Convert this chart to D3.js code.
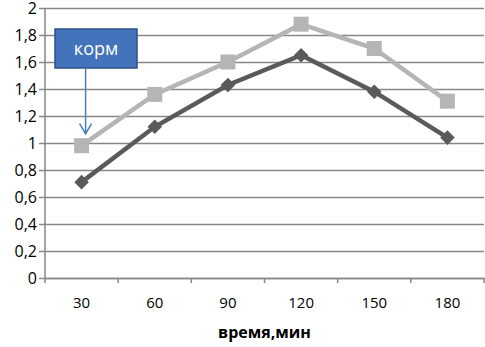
<!DOCTYPE html>
<html>
<head>
<meta charset="utf-8">
<script src="https://cdn.jsdelivr.net/npm/d3@7"></script>
<style>
  body { margin: 0; background: #fff; }
  text { font-family: "Open Sans", sans-serif; }
</style>
</head>
<body>
<div id="wrapper"></div>
<script>
const categories = ["30", "60", "90", "120", "150", "180"]
const seriesLight = [0.98, 1.36, 1.60, 1.88, 1.70, 1.31]
const seriesDark = [0.71, 1.12, 1.43, 1.65, 1.38, 1.04]
const yTicks = [0, 0.2, 0.4, 0.6, 0.8, 1, 1.2, 1.4, 1.6, 1.8, 2]
const axisTitle = "время,мин"
const calloutText = "корм"

function drawChart() {
    let dimensions = {
        width: 485,
        height: 347,
        margin: { top: 8, right: 1, bottom: 69, left: 45 },
    }
    dimensions.boundedWidth = dimensions.width - dimensions.margin.left - dimensions.margin.right
    dimensions.boundedHeight = dimensions.height - dimensions.margin.top - dimensions.margin.bottom

    const wrapper = d3.select("#wrapper")
        .append("svg")
        .attr("width", dimensions.width)
        .attr("height", dimensions.height)

    const bounds = wrapper.append("g")
        .attr("transform", `translate(${dimensions.margin.left}, ${dimensions.margin.top})`)

    const xScale = d3.scaleBand()
        .domain(categories)
        .range([0, dimensions.boundedWidth])

    const yScale = d3.scaleLinear()
        .domain([0, 2])
        .range([dimensions.boundedHeight, 0])

    // gridlines + y axis
    const yAxis = d3.axisLeft(yScale)
        .tickValues(yTicks)
        .tickSize(-dimensions.boundedWidth)
        .tickFormat(d => String(d).replace(".", ","))
    const yAxisG = bounds.append("g").call(yAxis)
    yAxisG.select(".domain").remove()
    yAxisG.selectAll(".tick line")
        .attr("x1", -6)
        .attr("stroke", "#878787")
        .attr("stroke-width", 1.5)
    yAxisG.selectAll(".tick text")
        .attr("x", -8)
        .attr("dy", "0.36em")
        .attr("font-size", 16)
        .attr("fill", "#000")

    // vertical axis line
    bounds.append("line")
        .attr("x1", 0).attr("x2", 0)
        .attr("y1", 0).attr("y2", dimensions.boundedHeight + 5)
        .attr("stroke", "#878787")
        .attr("stroke-width", 1.5)

    // x axis
    const xAxisG = bounds.append("g")
        .attr("transform", `translate(0, ${dimensions.boundedHeight})`)
        .call(d3.axisBottom(xScale).tickSize(0).tickPadding(19))
    xAxisG.select(".domain").attr("stroke", "#878787").attr("stroke-width", 1.5)
    xAxisG.selectAll(".tick text").attr("font-size", 15).attr("fill", "#000")

    // category boundary ticks
    bounds.append("g")
        .selectAll("line")
        .data(categories)
        .enter().append("line")
        .attr("x1", d => xScale(d) + xScale.bandwidth())
        .attr("x2", d => xScale(d) + xScale.bandwidth())
        .attr("y1", dimensions.boundedHeight)
        .attr("y2", dimensions.boundedHeight + 5)
        .attr("stroke", "#878787")
        .attr("stroke-width", 1.5)

    bounds.append("text")
        .attr("x", dimensions.boundedWidth / 2)
        .attr("y", dimensions.boundedHeight + 60)
        .attr("text-anchor", "middle")
        .attr("font-size", 16)
        .attr("font-weight", "bold")
        .text(axisTitle)

    const cx = d => xScale(d) + xScale.bandwidth() / 2
    const line = d3.line()
        .x((d, i) => cx(categories[i]))
        .y(d => yScale(d))

    // light series
    bounds.append("path")
        .datum(seriesLight)
        .attr("d", line)
        .attr("fill", "none")
        .attr("stroke", "#b5b5b5")
        .attr("stroke-width", 4.5)
    bounds.append("g")
        .selectAll("rect")
        .data(seriesLight)
        .enter().append("rect")
        .attr("x", (d, i) => cx(categories[i]) - 7.5)
        .attr("y", d => yScale(d) - 7.5)
        .attr("width", 15)
        .attr("height", 15)
        .attr("fill", "#b5b5b5")

    // dark series
    bounds.append("path")
        .datum(seriesDark)
        .attr("d", line)
        .attr("fill", "none")
        .attr("stroke", "#5a5a5a")
        .attr("stroke-width", 4.5)
    bounds.append("g")
        .selectAll("path")
        .data(seriesDark)
        .enter().append("path")
        .attr("d", d3.symbol().type(d3.symbolDiamond2).size(135))
        .attr("transform", (d, i) => `translate(${cx(categories[i])}, ${yScale(d)})`)
        .attr("fill", "#5a5a5a")

    // callout "корм"
    const boxX = 10, boxY = 21, boxW = 82, boxH = 39
    const arrowX = cx(categories[0]) + 4
    bounds.append("rect")
        .attr("x", boxX).attr("y", boxY)
        .attr("width", boxW).attr("height", boxH)
        .attr("fill", "#4373bb")
        .attr("stroke", "#2e5286")
        .attr("stroke-width", 1.5)
    bounds.append("text")
        .attr("x", boxX + boxW / 2)
        .attr("y", boxY + boxH / 2 + 6)
        .attr("text-anchor", "middle")
        .attr("font-size", 18)
        .attr("fill", "#fff")
        .text(calloutText)
    const tipY = yScale(seriesLight[0]) - 12
    bounds.append("line")
        .attr("x1", arrowX).attr("x2", arrowX)
        .attr("y1", boxY + boxH).attr("y2", tipY)
        .attr("stroke", "#4a7ec0")
        .attr("stroke-width", 1.5)
    bounds.append("path")
        .attr("d", `M${arrowX - 6},${tipY - 10} L${arrowX},${tipY} L${arrowX + 6},${tipY - 10}`)
        .attr("fill", "none")
        .attr("stroke", "#4a7ec0")
        .attr("stroke-width", 1.5)
}
drawChart()
</script>
</body>
</html>
